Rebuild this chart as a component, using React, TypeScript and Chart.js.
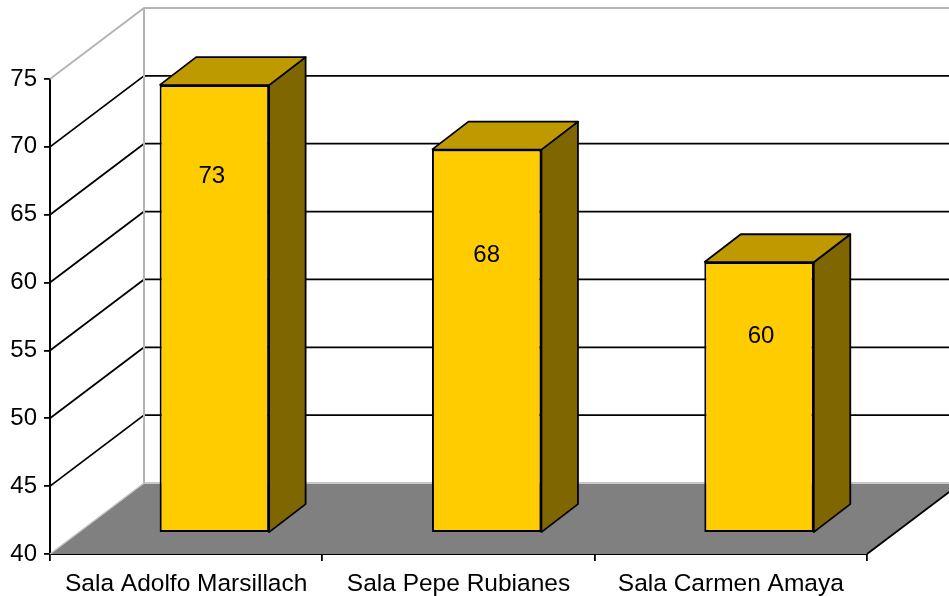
import React, { useEffect, useRef } from "react";
import { Chart, registerables } from "chart.js";

Chart.register(...registerables);

const categories = ["Sala Adolfo Marsillach", "Sala Pepe Rubianes", "Sala Carmen Amaya"];
const seatValues = [73.0, 68.25, 59.95];
const yMin = 40;
const yMax = 75;
const yStep = 5;

const FONT = '"Liberation Sans", Arial, sans-serif';
const FONT_SIZE = 24;
const X_FONT_SIZE = 24.5;
const WALL_DX = 94;
const WALL_DY = 71;
const BAR_SHIFT_X = 28.2;
const BAR_SHIFT_Y = 21;
const BAR_DX = 36.5;
const BAR_DY = 28;
const LABEL_LEVEL = [0.797, 0.7235, 0.725];
const LABEL_NUDGE = [-2.5, 0, 2];

function poly(ctx: CanvasRenderingContext2D, pts: number[][], fill: string | null, stroke: string | null, lw = 1.8) {
  ctx.beginPath();
  pts.forEach(([x, y], i) => (i ? ctx.lineTo(x, y) : ctx.moveTo(x, y)));
  if (fill) {
    ctx.closePath();
    ctx.fillStyle = fill;
    ctx.fill();
  }
  if (stroke) {
    ctx.strokeStyle = stroke;
    ctx.lineWidth = lw;
    ctx.lineJoin = "round";
    ctx.stroke();
  }
}

const box3d = {
  id: "box3d",
  beforeDatasetsDraw(chart: any) {
    const { ctx, chartArea: a, scales } = chart;
    const y = scales.y;
    const L = a.left, R = a.right, B = a.bottom;
    ctx.save();
    poly(ctx, [[L, B], [L + WALL_DX, B - WALL_DY], [R + WALL_DX, B - WALL_DY], [R, B]], "#808080", null);
    const grey = "#b4b4b4";
    poly(ctx, [[L + WALL_DX, B - WALL_DY], [R + WALL_DX, B - WALL_DY]], null, "#c8c8c8", 2);
    y.ticks.forEach((t: any) => {
      const py = y.getPixelForValue(t.value);
      if (t.value === yMin) return;
      const color = t.value === yMax ? grey : "#000000";
      poly(ctx, [[L, py], [L + WALL_DX, py - WALL_DY], [R + WALL_DX, py - WALL_DY]], null, color, t.value === yMax ? 2 : 1.8);
    });
    poly(ctx, [[L + WALL_DX, y.getPixelForValue(yMax) - WALL_DY], [L + WALL_DX, B - WALL_DY]], null, grey, 2);
    poly(ctx, [[L, B], [L + WALL_DX, B - WALL_DY]], null, "#c8c8c8", 1.5);
    poly(ctx, [[R, B], [R + WALL_DX, B - WALL_DY]], null, "#000000", 1.8);
    ctx.restore();
  },
  beforeDatasetDraw(chart: any, args: any) {
    const { ctx } = chart;
    ctx.save();
    ctx.translate(BAR_SHIFT_X, -BAR_SHIFT_Y);
    args.meta.data.forEach((el: any) => {
      const { x, y, base, width } = el.getProps(["x", "y", "base", "width"], true);
      const l = x - width / 2, r = x + width / 2;
      poly(ctx, [[r, y], [r + BAR_DX, y - BAR_DY], [r + BAR_DX, base - BAR_DY], [r, base]], "#806600", null);
      poly(ctx, [[r, y], [r + BAR_DX, y - BAR_DY], [r + BAR_DX, base - BAR_DY], [r, base], [r, y]], null, "#000000");
      poly(ctx, [[l, y], [l + BAR_DX, y - BAR_DY], [r + BAR_DX, y - BAR_DY], [r, y]], "#bf9900", null);
      poly(ctx, [[l, y], [l + BAR_DX, y - BAR_DY], [r + BAR_DX, y - BAR_DY], [r, y], [l, y]], null, "#000000");
    });
  },
  afterDatasetDraw(chart: any) {
    chart.ctx.restore();
  },
  afterDatasetsDraw(chart: any) {
    const { ctx } = chart;
    const meta = chart.getDatasetMeta(0);
    ctx.save();
    ctx.font = `${FONT_SIZE}px ${FONT}`;
    ctx.fillStyle = "#000000";
    ctx.textAlign = "center";
    ctx.textBaseline = "middle";
    meta.data.forEach((el: any, i: number) => {
      const { x, y, base } = el.getProps(["x", "y", "base"], true);
      const py = base + (y - base) * LABEL_LEVEL[i] - BAR_SHIFT_Y;
      ctx.fillText(String(Math.round(seatValues[i])), x + BAR_SHIFT_X + LABEL_NUDGE[i], py);
    });
    ctx.restore();
  },
};

export default function App() {
  const ref = useRef<HTMLCanvasElement>(null);
  useEffect(() => {
    document.body.style.margin = "0";
    document.body.style.background = "#ffffff";
    const chart = new Chart(ref.current as HTMLCanvasElement, {
      type: "bar",
      data: {
        labels: categories,
        datasets: [
          {
            data: seatValues,
            base: yMin,
            backgroundColor: "#FFCC00",
            borderColor: "#000000",
            borderWidth: 2,
            borderSkipped: false,
            barPercentage: 0.402,
            categoryPercentage: 1,
            clip: false,
          } as any,
        ],
      },
      options: {
        responsive: false,
        animation: false,
        layout: { padding: { top: 79, right: 82, left: 0, bottom: 0 } },
        plugins: { legend: { display: false }, title: { display: false }, tooltip: { enabled: false } },
        scales: {
          x: {
            afterFit: (s: any) => { s.height = 42; },
            grid: { drawOnChartArea: false, color: "#000000", lineWidth: 1.8, tickLength: 7, offset: true },
            border: { color: "#000000", width: 2 },
            ticks: { color: "#000000", font: { family: FONT, size: X_FONT_SIZE }, padding: 9, maxRotation: 0, autoSkip: false },
          },
          y: {
            min: yMin,
            max: yMax,
            afterFit: (s: any) => { s.width = 50; },
            grid: { drawOnChartArea: false, color: "#000000", lineWidth: 1.8, tickLength: 6 },
            border: { color: "#000000", width: 2 },
            ticks: { stepSize: yStep, color: "#000000", font: { family: FONT, size: FONT_SIZE }, padding: 7 },
          },
        },
      } as any,
      plugins: [box3d as any],
    });
    return () => chart.destroy();
  }, []);
  return <canvas ref={ref} width={949} height={596} style={{ display: "block" }} />;
}
